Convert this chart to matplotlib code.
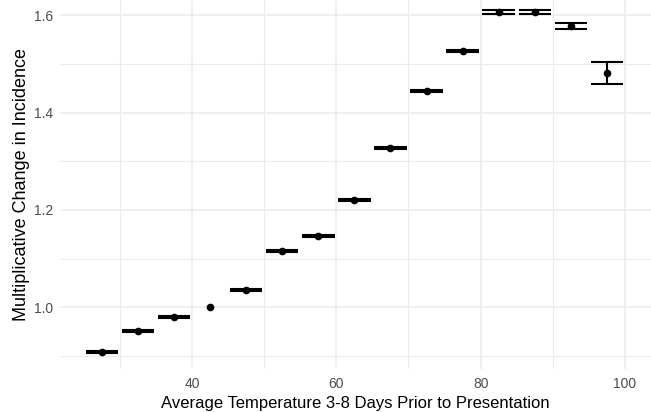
import numpy as np
import matplotlib
matplotlib.use("Agg")
import matplotlib.pyplot as plt
from matplotlib.ticker import MultipleLocator

# Temperature bins (midpoints) and estimated multiplicative change with CI
temp = [27.5, 32.5, 37.5, 42.5, 47.5, 52.5, 57.5, 62.5, 67.5, 72.5, 77.5, 82.5, 87.5, 92.5, 97.5]
estimate = [0.908, 0.950, 0.980, 1.000, 1.036, 1.116, 1.146, 1.220, 1.327, 1.444, 1.527, 1.606, 1.606, 1.578, 1.482]
lower = [0.9060, 0.9480, 0.9780, np.nan, 1.0340, 1.1140, 1.1440, 1.2180, 1.3250, 1.4420, 1.5245, 1.6020, 1.6020, 1.5725, 1.4590]
upper = [0.9100, 0.9520, 0.9820, np.nan, 1.0380, 1.1180, 1.1480, 1.2220, 1.3290, 1.4460, 1.5295, 1.6100, 1.6100, 1.5835, 1.5050]

x_ticks = [40, 60, 80, 100]
y_ticks = [1.0, 1.2, 1.4, 1.6]

plt.rcParams['font.family'] = ['Liberation Sans', 'DejaVu Sans']

fig = plt.figure(figsize=(6.51, 4.12), dpi=100)
ax = fig.add_axes([0.092, 0.104, 0.908, 0.896])

grid_col = "#EBEBEB"
ax.set_axisbelow(True)
ax.grid(which='major', color=grid_col, linewidth=1.1)
ax.grid(which='minor', color=grid_col, linewidth=0.8)
ax.xaxis.set_minor_locator(MultipleLocator(10))
ax.yaxis.set_minor_locator(MultipleLocator(0.1))

# error bars drawn as ggplot-style caps (width 4.5)
half_w = 2.25
for x, lo, hi in zip(temp, lower, upper):
    if np.isnan(lo):
        continue
    ax.hlines([lo, hi], x - half_w, x + half_w, color='black', linewidth=1.5)
    ax.vlines(x, lo, hi, color='black', linewidth=1.5)

ax.plot(temp, estimate, 'o', color='black', markersize=4.5)

ax.set_xlim(21.7, 103.6)
ax.set_ylim(0.8725, 1.6315)
ax.set_xticks(x_ticks)
ax.set_yticks(y_ticks)
ax.set_xticklabels([str(t) for t in x_ticks])
ax.set_yticklabels([f"{t:.1f}" for t in y_ticks])

for side in ax.spines.values():
    side.set_visible(False)
ax.tick_params(which='both', length=0, colors='#4D4D4D', labelsize=10)
ax.tick_params(axis='x', pad=6)
ax.tick_params(axis='y', pad=5)

ax.set_xlabel("Average Temperature 3-8 Days Prior to Presentation", fontsize=12, color='black', labelpad=3)
ax.set_ylabel("Multiplicative Change in Incidence", fontsize=13, color='black', labelpad=3)

fig.savefig("out.png", dpi=100)
